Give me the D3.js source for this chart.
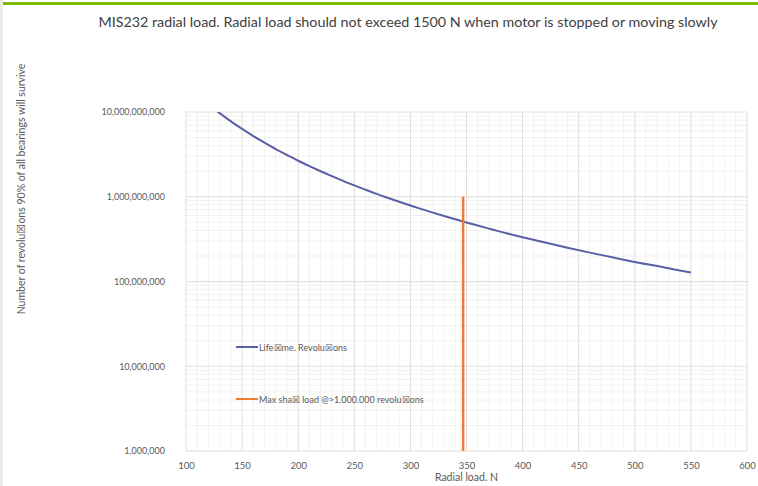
<!DOCTYPE html>
<html><head><meta charset="utf-8">
<script src="https://cdn.jsdelivr.net/npm/d3@7"></script>
<style>body{margin:0;background:#fff;}svg{display:block;}</style>
</head><body>
<script>
// ---- data ----
const loads = [125,130,140,150,160,170,180,190,200,210,220,230,240,250,260,270,280,290,300,310,320,330,340,350,360,370,380,390,400,420,440,460,480,500,520,540,550];
const revolutions = [1.09e10,9.70e9,7.76e9,6.31e9,5.20e9,4.34e9,3.65e9,3.11e9,2.66e9,2.30e9,2.00e9,1.75e9,1.54e9,1.36e9,1.21e9,1.08e9,9.70e8,8.73e8,7.89e8,7.15e8,6.50e8,5.93e8,5.42e8,4.97e8,4.57e8,4.21e8,3.88e8,3.59e8,3.33e8,2.88e8,2.50e8,2.19e8,1.93e8,1.70e8,1.52e8,1.35e8,1.28e8];
const maxLoadX = [347,347];
const maxLoadY = [1e6,1e9];
const xTicks = [100,150,200,250,300,350,400,450,500,550,600];
const yTicks = [1e6,1e7,1e8,1e9,1e10];
const titleText = "MIS232 radial load. Radial load should not exceed 1500 N when motor is stopped or moving slowly";
const xTitle = "Radial load. N";
const yTitle = "Number of revolu\u2612ons 90% of all bearings will survive";
const legendLabels = ["Life\u2612me. Revolu\u2612ons", "Max sha\u2612 load @>1.000.000 revolu\u2612ons"];

const W = 758, H = 486;
const m = {l:186, r:11, t:112, b:35};
const svg = d3.select("body").append("svg").attr("width",W).attr("height",H);
const font = "Lato, 'Open Sans', sans-serif";

// page decorations
svg.append("rect").attr("x",0).attr("y",0).attr("width",3).attr("height",H).attr("fill","#ececec");
svg.append("rect").attr("x",3).attr("y",2).attr("width",W-3).attr("height",3).attr("fill","#7dbb00");

const x = d3.scaleLinear().domain([100,600]).range([m.l, W-m.r]);
const y = d3.scaleLog().domain([1e6,1e10]).range([H-m.b, m.t]);

const g = svg.append("g");
// minor vertical grid
const xMinor = d3.range(100,601,10).filter(v=>v%50!==0);
g.selectAll(".xm").data(xMinor).enter().append("line")
  .attr("x1",d=>x(d)).attr("x2",d=>x(d)).attr("y1",y(1e10)).attr("y2",y(1e6))
  .attr("stroke","#f3f1ee").attr("stroke-width",1);
// minor horizontal grid
const yMinor = [];
[1e6,1e7,1e8,1e9].forEach(b=>{for(let k=2;k<=9;k++) yMinor.push(b*k);});
g.selectAll(".ym").data(yMinor).enter().append("line")
  .attr("x1",x(100)).attr("x2",x(600)).attr("y1",d=>y(d)).attr("y2",d=>y(d))
  .attr("stroke","#f3f1ee").attr("stroke-width",1);
// major grid
g.selectAll(".xM").data(xTicks).enter().append("line")
  .attr("x1",d=>x(d)).attr("x2",d=>x(d)).attr("y1",y(1e10)).attr("y2",y(1e6))
  .attr("stroke","#e2ddd8").attr("stroke-width",1);
g.selectAll(".yM").data(yTicks).enter().append("line")
  .attr("x1",x(100)).attr("x2",x(600)).attr("y1",d=>y(d)).attr("y2",d=>y(d))
  .attr("stroke","#e2ddd8").attr("stroke-width",1);

// axes labels using d3 axes
const fmt = d3.format(",");
const yAxis = svg.append("g").attr("transform",`translate(${m.l-18},0)`)
  .call(d3.axisLeft(y).tickValues(yTicks).tickFormat(d=>fmt(d)).tickSize(0));
yAxis.select(".domain").remove();
yAxis.selectAll("text").attr("font-family",font).attr("font-size",9).attr("fill","#595959");

const xAxis = svg.append("g").attr("transform",`translate(0,${H-m.b+8})`)
  .call(d3.axisBottom(x).tickValues(xTicks).tickSize(0));
xAxis.select(".domain").remove();
xAxis.selectAll("text").attr("font-family",font).attr("font-size",9.5).attr("fill","#595959");

// clip
svg.append("clipPath").attr("id","clip").append("rect")
  .attr("x",x(100)).attr("y",y(1e10)).attr("width",x(600)-x(100)).attr("height",y(1e6)-y(1e10));

const line = d3.line().x(d=>x(d[0])).y(d=>y(d[1])).curve(d3.curveMonotoneX);
svg.append("path").attr("clip-path","url(#clip)")
  .datum(loads.map((v,i)=>[v,revolutions[i]]))
  .attr("d",line).attr("fill","none").attr("stroke","#5a60a8").attr("stroke-width",2);

svg.append("path").datum(maxLoadX.map((v,i)=>[v,maxLoadY[i]]))
  .attr("d",d3.line().x(d=>x(d[0])).y(d=>y(d[1])))
  .attr("fill","none").attr("stroke","#ed7d31").attr("stroke-width",2.5);

// legend
const legColors = ["#5a60a8","#ed7d31"];
const legY = [347,399];
legendLabels.forEach((t,i)=>{
  svg.append("line").attr("x1",236).attr("x2",258).attr("y1",legY[i]).attr("y2",legY[i])
    .attr("stroke",legColors[i]).attr("stroke-width",2);
  svg.append("text").attr("x",259).attr("y",legY[i]+3.5).text(t)
    .attr("font-family",font).attr("font-size",9).attr("fill","#595959");
});

// titles
svg.append("text").attr("x",408).attr("y",27).attr("text-anchor","middle").text(titleText)
  .attr("font-family",font).attr("font-size",14.3).attr("fill","#404040");
svg.append("text").attr("x",x(350)).attr("y",481).attr("text-anchor","middle").text(xTitle)
  .attr("font-family",font).attr("font-size",10.5).attr("fill","#595959");
svg.append("text").attr("transform","translate(25,189) rotate(-90)").attr("text-anchor","middle").text(yTitle)
  .attr("font-family",font).attr("font-size",10.5).attr("fill","#595959");
</script>
</body></html>
